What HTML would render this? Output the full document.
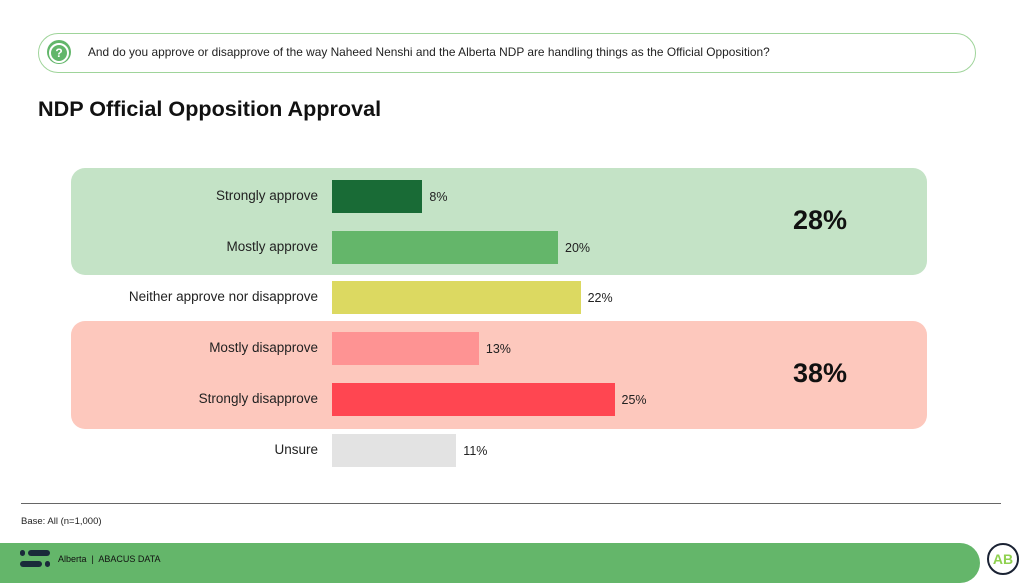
<!DOCTYPE html>
<html><head><meta charset="utf-8"><style>
body{margin:0;width:1024px;height:576px;overflow:hidden;background:#fff;font-family:"Liberation Sans",sans-serif;position:relative}
.abs{position:absolute}
</style></head><body>
<div class="abs" style="left:38px;top:33px;width:936px;height:38px;border:1.5px solid #9fd49a;border-radius:20px"></div>
<div class="abs" style="left:47px;top:40px;width:24px;height:24px;border-radius:50%;background:#62b66a;color:#fff;font-weight:bold;font-size:14px;text-align:center;line-height:24px"><span style="display:inline-block;width:16px;height:16px;border:2px solid #fff;border-radius:50%;line-height:16px;margin-top:2px;font-size:12px">?</span></div>
<div class="abs" style="left:88px;top:45px;font-size:11.9px;color:#222">And do you approve or disapprove of the way Naheed Nenshi and the Alberta NDP are handling things as the Official Opposition?</div>
<div class="abs" style="left:38px;top:96px;font-size:21.6px;font-weight:bold;color:#111">NDP Official Opposition Approval</div>
<div class="abs" style="left:71px;top:168px;width:856px;height:107px;background:#c4e3c6;border-radius:14px"></div>
<div class="abs" style="left:71px;top:321px;width:856px;height:108px;background:#fdc8bd;border-radius:14px"></div>
<div class="abs" style="left:740px;top:205px;width:160px;text-align:center;font-size:27px;font-weight:bold;color:#111">28%</div>
<div class="abs" style="left:740px;top:358px;width:160px;text-align:center;font-size:27px;font-weight:bold;color:#111">38%</div>
<div id="chart"></div>
<div class="abs" style="left:21px;top:503px;width:980px;height:1px;background:#666"></div>
<div class="abs" style="left:21px;top:516px;font-size:9.5px;color:#222">Base: All (n=1,000)</div>
<div class="abs" style="left:-20px;top:543px;width:1000px;height:40px;background:#64b66a;border-radius:0 20px 20px 0"></div>
<div class="abs" style="left:20px;top:550px;width:30px;height:18px">
<div class="abs" style="left:0;top:0;width:5px;height:6px;border-radius:3px;background:#1a2a3a"></div>
<div class="abs" style="left:8px;top:0;width:22px;height:6px;border-radius:3px;background:#1a2a3a"></div>
<div class="abs" style="left:0;top:11px;width:22px;height:6px;border-radius:3px;background:#1a2a3a"></div>
<div class="abs" style="left:25px;top:11px;width:5px;height:6px;border-radius:3px;background:#1a2a3a"></div>
</div>
<div class="abs" style="left:58px;top:554px;font-size:9px;color:#111">Alberta &nbsp;|&nbsp; ABACUS DATA</div>
<div class="abs" style="left:987px;top:543px;width:28px;height:28px;border:2.5px solid #1a2233;border-radius:50%;background:#fff;color:#8fd14f;font-weight:bold;font-size:14px;text-align:center;line-height:28px">AB</div>
<script>
const categories=["Strongly approve","Mostly approve","Neither approve nor disapprove","Mostly disapprove","Strongly disapprove","Unsure"];
const values=[8,20,22,13,25,11];
const valueLabels=["8%","20%","22%","13%","25%","11%"];
const colors=["#196b36","#64b66a","#dcd961","#fe9393","#ff4651","#e3e3e3"];
const x0=332,pxPer=11.3,y0=180,step=50.7,bh=33;
const xs=v=>v*pxPer;
const chart=document.getElementById('chart');
categories.forEach((c,i)=>{
  const y=y0+i*step;
  const lab=document.createElement('div');
  lab.className='abs';
  
  
  lab.style.cssText=`left:60px;width:258px;text-align:right;top:${y+8}px;font-size:13.5px;color:#222`;
  lab.textContent=c;chart.appendChild(lab);
  const b=document.createElement('div');
  b.className='abs';
  
  
  b.style.cssText=`left:${x0}px;top:${y}px;width:${xs(values[i])}px;height:${bh}px;background:${colors[i]}`;
  chart.appendChild(b);
  const v=document.createElement('div');
  v.className='abs';
  
  
  v.style.cssText=`left:${x0+xs(values[i])+7}px;top:${y+10}px;font-size:12.5px;color:#222`;
  v.textContent=valueLabels[i];chart.appendChild(v);
});
</script>
</body></html>
